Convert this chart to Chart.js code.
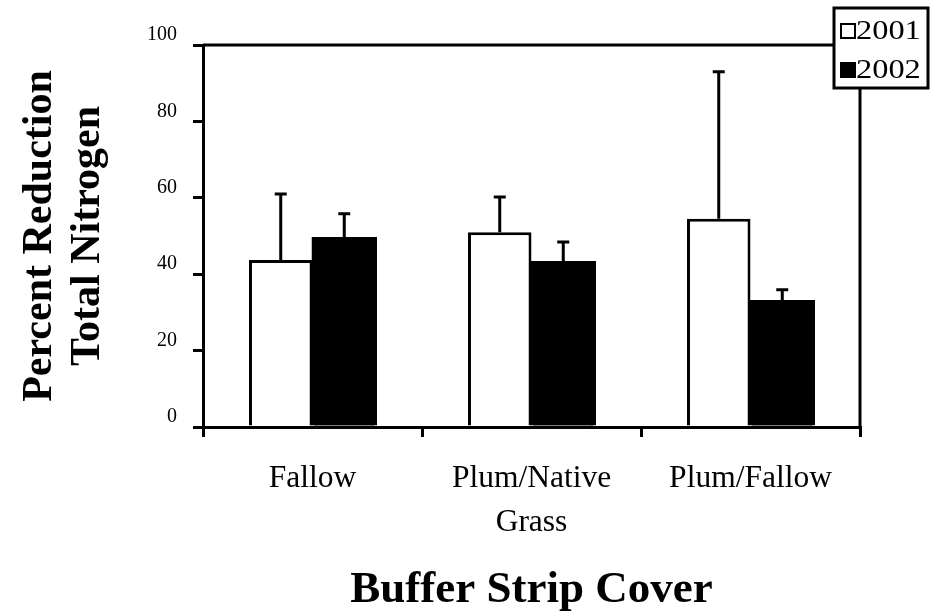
<!DOCTYPE html>
<html>
<head>
<meta charset="utf-8">
<script src="https://cdn.jsdelivr.net/npm/chart.js@4.4.1/dist/chart.umd.min.js"></script>
<style>
  html, body { margin: 0; padding: 0; background: #fff; }
  #myChart { display: block; }
</style>
</head>
<body>
<canvas id="myChart" width="932" height="613"></canvas>
<script>
const categories = ["Fallow", ["Plum/Native", "Grass"], "Plum/Fallow"];
const years = ["2001", "2002"];
const values2001 = [43.7, 51.0, 54.5];
const values2002 = [49.5, 43.2, 33.0];
const errors2001 = [17.3, 9.2, 38.5];
const errors2002 = [6.3, 5.2, 2.9];
const yTicks = [0, 20, 40, 60, 80, 100];

const serif = "'Liberation Serif', 'Times New Roman', serif";

// error bars drawn above each bar (only the upper half, like the original)
const errorBars = {
  id: "errorBars",
  afterDatasetsDraw(chart) {
    const ctx = chart.ctx;
    const yScale = chart.scales.y;
    ctx.save();
    ctx.strokeStyle = "#000";
    ctx.lineWidth = 3;
    chart.data.datasets.forEach((ds, i) => {
      const meta = chart.getDatasetMeta(i);
      meta.data.forEach((bar, j) => {
        const top = yScale.getPixelForValue(ds.data[j] + ds.errors[j]);
        ctx.beginPath();
        ctx.moveTo(bar.x, bar.y);
        ctx.lineTo(bar.x, top);
        ctx.moveTo(bar.x - 6, top);
        ctx.lineTo(bar.x + 6, top);
        ctx.stroke();
      });
    });
    ctx.restore();
  }
};

// top/right frame lines and the boxed legend sitting on the corner
const frameAndLegend = {
  id: "frameAndLegend",
  afterDraw(chart) {
    const ctx = chart.ctx;
    const area = chart.chartArea;
    ctx.save();
    ctx.strokeStyle = "#000";
    ctx.lineWidth = 3;
    ctx.beginPath();
    ctx.moveTo(area.left, area.top);
    ctx.lineTo(area.right, area.top);
    ctx.lineTo(area.right, area.bottom);
    ctx.stroke();

    const box = { x: 834, y: 8, w: 94, h: 80 };
    ctx.fillStyle = "#fff";
    ctx.fillRect(box.x, box.y, box.w, box.h);
    ctx.strokeRect(box.x, box.y, box.w, box.h);

    ctx.textBaseline = "middle";
    chart.data.datasets.forEach((ds, i) => {
      const cy = box.y + 23 + i * 39;
      ctx.fillStyle = ds.backgroundColor;
      ctx.lineWidth = 2;
      ctx.fillRect(box.x + 7, cy - 7, 14, 14);
      ctx.strokeRect(box.x + 7, cy - 7, 14, 14);
      // original text is a bit stretched sideways
      ctx.save();
      ctx.translate(box.x + 22, cy + 1);
      ctx.scale(1.2, 1);
      ctx.font = "27px " + serif;
      ctx.fillStyle = "#000";
      ctx.fillText(ds.label, 0, 0);
      ctx.restore();
    });
    ctx.restore();
  }
};

const ctx = document.getElementById("myChart").getContext("2d");
const myChart = new Chart(ctx, {
  type: "bar",
  data: {
    labels: categories,
    datasets: [
      {
        label: years[0],
        data: values2001,
        errors: errors2001,
        backgroundColor: "#ffffff",
        borderColor: "#000000",
        borderWidth: 3,
      },
      {
        label: years[1],
        data: values2002,
        errors: errors2002,
        backgroundColor: "#000000",
        borderColor: "#000000",
        borderWidth: 3,
        inflateAmount: 1,
      },
    ],
  },
  options: {
    responsive: false,
    animation: false,
    devicePixelRatio: 1,
    layout: { padding: { top: 45, right: 72, bottom: 0, left: 0 } },
    datasets: {
      bar: { categoryPercentage: 0.58, barPercentage: 1.0 },
    },
    plugins: {
      legend: { display: false },
      tooltip: { enabled: false },
    },
    scales: {
      x: {
        afterFit: (scale) => { scale.height = 186; },
        border: { display: true, color: "#000", width: 3 },
        grid: {
          offset: true,
          drawOnChartArea: false,
          drawTicks: true,
          tickLength: 10,
          color: "#000",
          lineWidth: 3,
        },
        ticks: {
          color: "#000",
          padding: 19,
          font: { family: serif, size: 31.5, lineHeight: 1.42 },
          maxRotation: 0,
        },
        title: {
          display: true,
          text: "Buffer Strip Cover",
          color: "#000",
          font: { family: serif, size: 45, weight: "bold", lineHeight: 1.0 },
          padding: { top: 0, bottom: 0 },
        },
      },
      y: {
        min: 0,
        max: 100,
        afterFit: (scale) => { scale.width = 203; },
        afterBuildTicks: (scale) => {
          scale.ticks = yTicks.map((v) => ({ value: v }));
        },
        border: { display: true, color: "#000", width: 3 },
        grid: {
          drawOnChartArea: false,
          drawTicks: true,
          tickLength: 10,
          color: "#000",
          lineWidth: 3,
        },
        ticks: {
          color: "#000",
          padding: 16,
          labelOffset: -10,
          font: { family: serif, size: 20 },
        },
        title: {
          display: true,
          text: ["Percent Reduction", "Total Nitrogen"],
          color: "#000",
          font: { family: serif, size: 42, weight: "bold", lineHeight: 1.15 },
          padding: { top: 16, bottom: 0 },
        },
      },
    },
  },
  plugins: [errorBars, frameAndLegend],
});
</script>
</body>
</html>
